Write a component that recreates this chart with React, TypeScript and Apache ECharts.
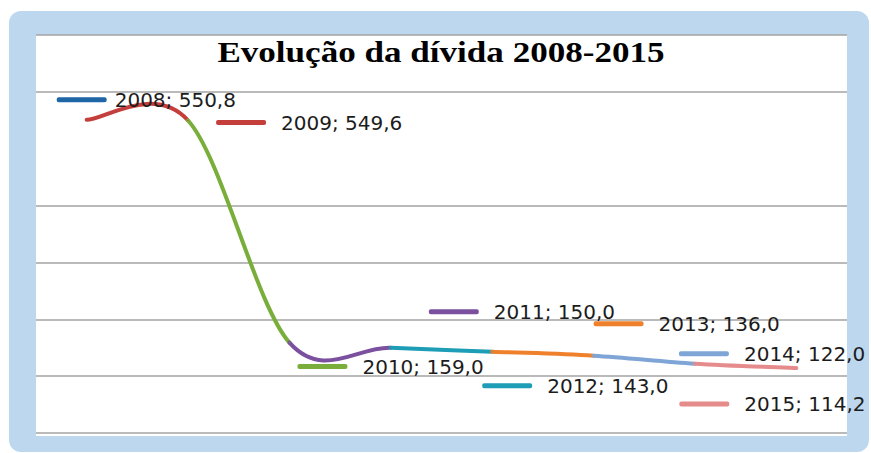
import React, { useEffect, useRef } from 'react';
import * as echarts from 'echarts';

const titleText = 'Evolução da dívida 2008-2015';
const years = ['2008', '2009', '2010', '2011', '2012', '2013', '2014', '2015'];
const debt = [550.8, 549.6, 159.0, 150.0, 143.0, 136.0, 122.0, 114.2];
const yearColors = ['#1F66A6', '#C43E3B', '#79AE3B', '#7B509E', '#1E9DB6', '#F0812C', '#7FA5D6', '#E68B8B'];
// label placement (px) relative to each point: [dx, dy]
const labelOffsets = [[-30, -20], [28, 2], [8, 24], [38, -36], [-10, 34], [0, -32], [-16, -10], [-117, 36]];
const labelGaps = [8, 15, 15, 15, 15, 15, 15, 15];
const yMin = 0;
const yMax = 700;
const yStep = 100;

export default function App() {
  const ref = useRef<HTMLDivElement>(null);
  useEffect(() => {
    const chart = echarts.init(ref.current!, null, { renderer: 'svg' });
    const rich: any = {};
    yearColors.forEach((c, i) => {
      rich['k' + i] = { width: 50, height: 5, backgroundColor: c, borderRadius: 2 };
      rich['t' + i] = { fontFamily: 'DejaVu Sans', fontSize: 20, color: '#1c1c1c', padding: [0, 0, 0, labelGaps[i]] };
    });
    const fmt = (v: number) => v.toFixed(1).replace('.', ',');
    const n = debt.length;
    const labelData = debt.map((v, i) => ({
      value: v,
      itemStyle: { color: yearColors[Math.max(i, 1)] },
      label: { offset: labelOffsets[i] },
    }));
    const curveData = debt.map((v, i) => [i, v]);
    const gridGray = '#a3a3a3';
    const splitColors: string[] = [];
    for (let v = yMin; v <= yMax; v += yStep) splitColors.push(v === 500 ? 'rgba(0,0,0,0)' : gridGray);

    const renderSegment = (params: any, api: any) => {
      const i = params.dataIndex;
      if (i === 0) return null;
      const pt = (k: number) => api.coord([k, debt[k]]);
      const p0 = pt(Math.max(i - 2, 0));
      const p1 = pt(i - 1);
      const p2 = pt(i);
      const p3 = pt(Math.min(i + 1, n - 1));
      return {
        type: 'bezierCurve',
        shape: {
          x1: p1[0], y1: p1[1],
          cpx1: p1[0] + (p2[0] - p0[0]) / 6, cpy1: p1[1] + (p2[1] - p0[1]) / 6,
          cpx2: p2[0] - (p3[0] - p1[0]) / 6, cpy2: p2[1] - (p3[1] - p1[1]) / 6,
          x2: p2[0], y2: p2[1],
        },
        style: { stroke: yearColors[i], lineWidth: 4, fill: 'none', lineCap: 'round' },
      };
    };

    chart.setOption({
      animation: false,
      backgroundColor: '#ffffff',
      graphic: [
        { type: 'rect', z: -10, shape: { x: 9, y: 11, width: 860, height: 441, r: 12 }, style: { fill: '#BDD7EF' } },
        { type: 'rect', z: -9, shape: { x: 36, y: 35, width: 811, height: 401 }, style: { fill: '#ffffff' } },
        {
          type: 'text', z: 10, x: 441, y: 52, scaleX: 1.21,
          style: {
            text: titleText, fontFamily: 'Liberation Serif', fontWeight: 'bold', fontSize: 29,
            fill: '#000000', textAlign: 'center', textVerticalAlign: 'middle',
          },
        },
      ],
      grid: { left: 36, right: 24, top: 35, bottom: 20, containLabel: false },
      xAxis: {
        type: 'category', data: years, boundaryGap: true,
        axisLine: { show: false }, axisTick: { show: false }, axisLabel: { show: false }, splitLine: { show: false },
      },
      yAxis: {
        type: 'value', min: yMin, max: yMax, interval: yStep,
        axisLine: { show: false }, axisTick: { show: false }, axisLabel: { show: false },
        splitLine: { show: true, lineStyle: { color: splitColors, width: 1.5 } },
      },
      series: [
        {
          type: 'custom', data: curveData, encode: { x: 0, y: 1 }, renderItem: renderSegment, z: 2,
        },
        {
          type: 'line', data: labelData, symbol: 'circle', symbolSize: 1, z: 3,
          lineStyle: { opacity: 0, width: 0 },
          label: {
            show: true, position: 'inside', align: 'left', verticalAlign: 'middle',
            formatter: (p: any) => `{k${p.dataIndex}|}{t${p.dataIndex}|${years[p.dataIndex]}; ${fmt(p.value)}}`,
            rich,
          },
        },
      ],
    });
    return () => chart.dispose();
  }, []);
  return <div ref={ref} style={{ position: 'absolute', left: 0, top: 0, width: 871, height: 453 }} />;
}
